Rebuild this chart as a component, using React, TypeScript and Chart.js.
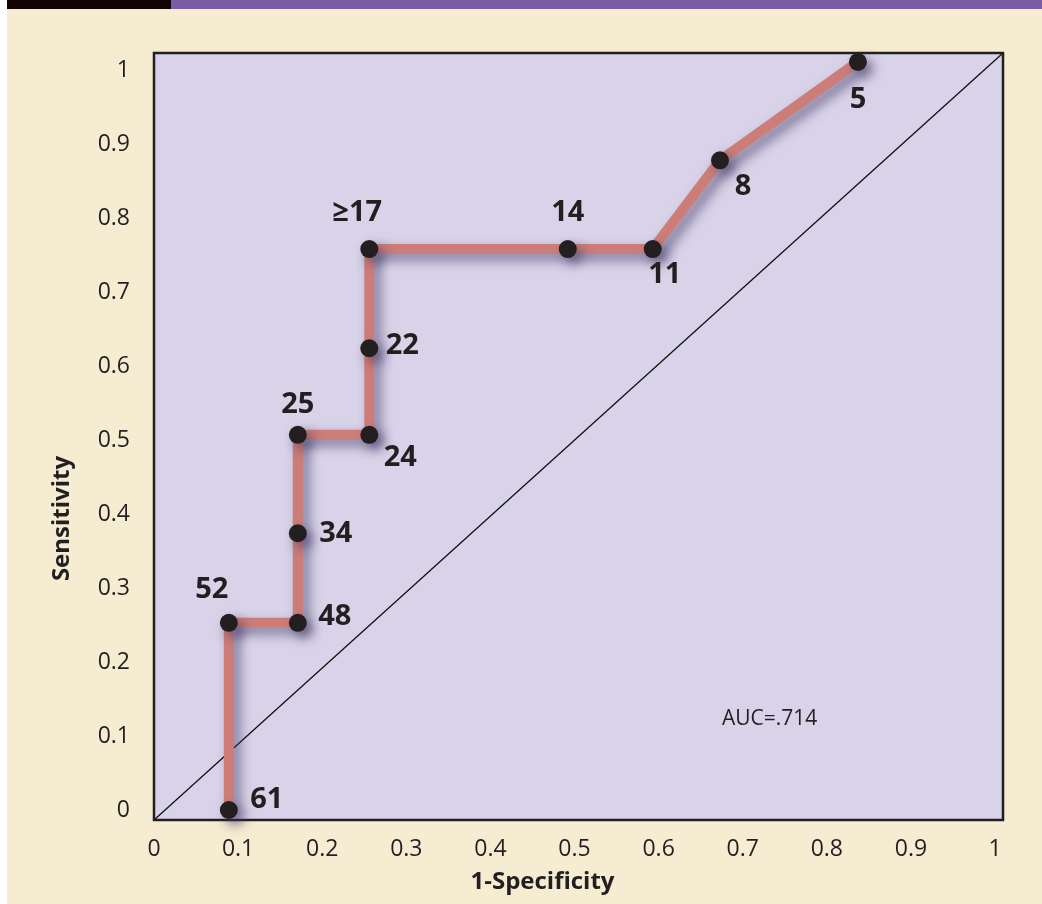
import { useEffect, useRef } from 'react';
import { Chart, registerables } from 'chart.js';

Chart.register(...registerables);

// ---- data ----
const thresholds = ['61', '52', '48', '34', '25', '24', '22', '≥17', '14', '11', '8', '5'];
const falsePositiveRate = [0.089, 0.089, 0.171, 0.171, 0.171, 0.256, 0.256, 0.256, 0.492, 0.593, 0.673, 0.837];
const sensitivity = [0, 0.253, 0.253, 0.374, 0.507, 0.507, 0.624, 0.758, 0.758, 0.758, 0.878, 1.011];
const tickValues = [0, 0.1, 0.2, 0.3, 0.4, 0.5, 0.6, 0.7, 0.8, 0.9, 1];
const xTitle = '1-Specificity';
const yTitle = 'Sensitivity';
const aucText = 'AUC=.714';
const aucAt = [0.732, 0.123];

// ---- style ----
const labelOffsets: [number, number][] = [
  [38, -10], [-17, -33], [37, -6], [38, 0], [0, -30], [31, 23],
  [33, -3], [-12, -36], [0, -36], [12, 26], [23, 26], [0, 38],
];
const FONT = "'Open Sans', 'Noto Sans', sans-serif";
const INK = '#231f20';
const CREAM = '#f6ecd2';
const LAVENDER = '#d8d3e8';
const PURPLE = '#7a5ba6';
const DARK = '#100404';
const ROC = '#cd7d78';

const decor = {
  id: 'decor',
  beforeDraw(chart: any) {
    const { ctx, chartArea: a, width, height } = chart;
    ctx.save();
    ctx.fillStyle = '#ffffff';
    ctx.fillRect(0, 0, width, height);
    ctx.fillStyle = CREAM;
    ctx.fillRect(7, 0, width - 7, height);
    ctx.fillStyle = DARK;
    ctx.fillRect(7, 0, 164, 9);
    ctx.fillStyle = PURPLE;
    ctx.fillRect(171, 0, width - 171, 9);
    ctx.fillStyle = LAVENDER;
    ctx.fillRect(a.left, a.top, a.right - a.left, a.bottom - a.top);
    // reference diagonal
    ctx.strokeStyle = '#111';
    ctx.lineWidth = 1.3;
    ctx.beginPath();
    ctx.moveTo(a.left, a.bottom);
    ctx.lineTo(a.right, a.top);
    ctx.stroke();
    // frame
    ctx.strokeStyle = INK;
    ctx.lineWidth = 2.5;
    ctx.strokeRect(a.left, a.top, a.right - a.left, a.bottom - a.top);
    // axis titles
    ctx.fillStyle = INK;
    ctx.font = `bold 24px ${FONT}`;
    ctx.textAlign = 'center';
    ctx.textBaseline = 'middle';
    ctx.fillText(xTitle, (a.left + a.right) / 2 - 36, a.bottom + 62);
    ctx.save();
    ctx.translate(a.left - 92, (a.top + a.bottom) / 2 + 82);
    ctx.rotate(-Math.PI / 2);
    ctx.fillText(yTitle, 0, 0);
    ctx.restore();
    // AUC annotation
    ctx.font = `21px ${FONT}`;
    ctx.fillText(aucText, chart.scales.x.getPixelForValue(aucAt[0]), chart.scales.y.getPixelForValue(aucAt[1]));
    ctx.restore();
  },
  beforeDatasetsDraw(chart: any) {
    const { ctx } = chart;
    ctx.save();
    ctx.shadowColor = 'rgba(60, 50, 95, 0.6)';
    ctx.shadowBlur = 12;
    ctx.shadowOffsetX = 6;
    ctx.shadowOffsetY = 6;
  },
  afterDatasetsDraw(chart: any) {
    const { ctx } = chart;
    ctx.restore();
    const meta = chart.getDatasetMeta(0);
    ctx.save();
    ctx.fillStyle = INK;
    ctx.font = `bold 29px ${FONT}`;
    ctx.textAlign = 'center';
    ctx.textBaseline = 'middle';
    meta.data.forEach((el: any, i: number) => {
      const [dx, dy] = labelOffsets[i];
      ctx.fillText(thresholds[i], el.x + dx, el.y + dy);
    });
    ctx.restore();
  },
};

const fmt = (v: number) => String(Number(Number(v).toFixed(1)));

export default function App() {
  const ref = useRef<HTMLCanvasElement | null>(null);
  useEffect(() => {
    document.body.style.margin = '0';
    const canvas = ref.current;
    if (!canvas) return;
    const chart = new Chart(canvas, {
      type: 'scatter',
      data: {
        datasets: [
          {
            data: falsePositiveRate.map((x, i) => ({ x, y: sensitivity[i] })),
            showLine: true,
            borderColor: ROC,
            borderWidth: 10,
            borderJoinStyle: 'miter',
            borderCapStyle: 'butt',
            pointRadius: 9,
            pointHoverRadius: 9,
            pointBackgroundColor: INK,
            pointBorderWidth: 0,
            clip: false,
          } as any,
        ],
      },
      options: {
        responsive: false,
        animation: false,
        devicePixelRatio: 1,
        layout: { padding: { top: 53, right: 39, left: 0, bottom: 0 } },
        plugins: { legend: { display: false }, tooltip: { enabled: false } },
        events: [],
        scales: {
          x: {
            type: 'linear',
            min: 0,
            max: 1.0095,
            afterBuildTicks: (s: any) => { s.ticks = tickValues.map((v) => ({ value: v })); },
            afterFit: (s: any) => { s.height = 84; },
            ticks: {
              callback: (v: any) => fmt(v),
              font: { family: FONT, size: 23 },
              color: INK,
              padding: 16,
              maxRotation: 0,
              autoSkip: false,
            },
            grid: { display: false, drawTicks: false },
            border: { display: false },
          },
          y: {
            type: 'linear',
            min: -0.0135,
            max: 1.023,
            afterBuildTicks: (s: any) => { s.ticks = tickValues.map((v) => ({ value: v })); },
            afterFit: (s: any) => { s.width = 154; },
            ticks: {
              callback: (v: any) => fmt(v),
              font: { family: FONT, size: 23 },
              color: INK,
              padding: 24,
              autoSkip: false,
            },
            grid: { display: false, drawTicks: false },
            border: { display: false },
          },
        },
      },
      plugins: [decor],
    } as any);
    return () => chart.destroy();
  }, []);
  return <canvas ref={ref} width={1042} height={904} style={{ display: 'block' }} />;
}
